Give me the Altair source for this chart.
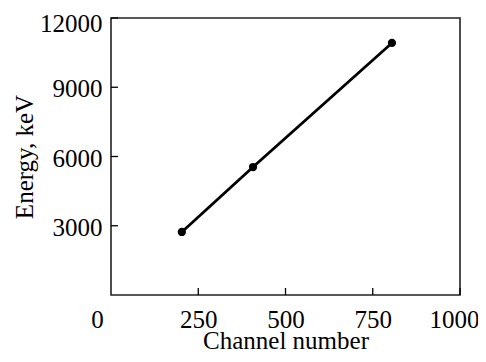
import altair as alt
import pandas as pd

channels = [203, 407, 805]
energies = [2730, 5545, 10920]
x_ticks = [0, 250, 500, 750, 1000]
y_ticks = [3000, 6000, 9000, 12000]

W, H = 349, 277
FONT = "Liberation Serif"

df = pd.DataFrame({"channel": channels, "energy": energies})
xt = pd.DataFrame({"t": x_ticks[1:]})
yt = pd.DataFrame({"t": y_ticks})

xs = alt.Scale(domain=[0, 1000], nice=False, zero=False)
ys = alt.Scale(domain=[0, 12000], nice=False, zero=False)

line = alt.Chart(df).mark_line(color="black", strokeWidth=2.8).encode(
    x=alt.X("channel:Q", scale=xs, title="Channel number",
            axis=alt.Axis(values=x_ticks, ticks=False, domain=False, grid=False, format="d",
                          labelPadding=12, titlePadding=-4,
                          labelOffset={"condition": [
                              {"test": "datum.value == 0", "value": -14},
                              {"test": "datum.value == 1000", "value": -6}], "value": 0})),
    y=alt.Y("energy:Q", scale=ys, title="Energy, keV",
            axis=alt.Axis(values=y_ticks, ticks=False, domain=False, grid=False, format="d",
                          labelPadding=9, titlePadding=2,
                          labelOffset={"condition": {"test": "datum.value == 12000", "value": 5}, "value": 1.5})),
)
pts = alt.Chart(df).mark_circle(color="black", opacity=1, size=68).encode(
    x=alt.X("channel:Q", scale=xs), y=alt.Y("energy:Q", scale=ys))

xtick = alt.Chart(xt).mark_rule(color="black", strokeWidth=1.3).encode(
    x=alt.X("t:Q", scale=xs), y=alt.value(H), y2=alt.value(H - 7))
ytick = alt.Chart(yt).mark_rule(color="black", strokeWidth=1.3).encode(
    y=alt.Y("t:Q", scale=ys), x=alt.value(0), x2=alt.value(7))

chart = alt.layer(line, pts, xtick, ytick).properties(
    width=W, height=H,
    autosize=alt.AutoSizeParams(type="none"),
    padding={"left": 103, "top": 10, "right": 18, "bottom": 57},
).configure(background="white").configure_view(stroke="#222222", strokeWidth=1.6).configure_axis(
    labelFont=FONT, titleFont=FONT, labelFontSize=25, titleFontSize=25,
    labelColor="black", titleColor="black", titleFontWeight="normal",
    labelFlush=False, labelBound=False, labelOverlap=False,
)

chart.save("out.html", embed_options={"renderer": "svg", "actions": False})
